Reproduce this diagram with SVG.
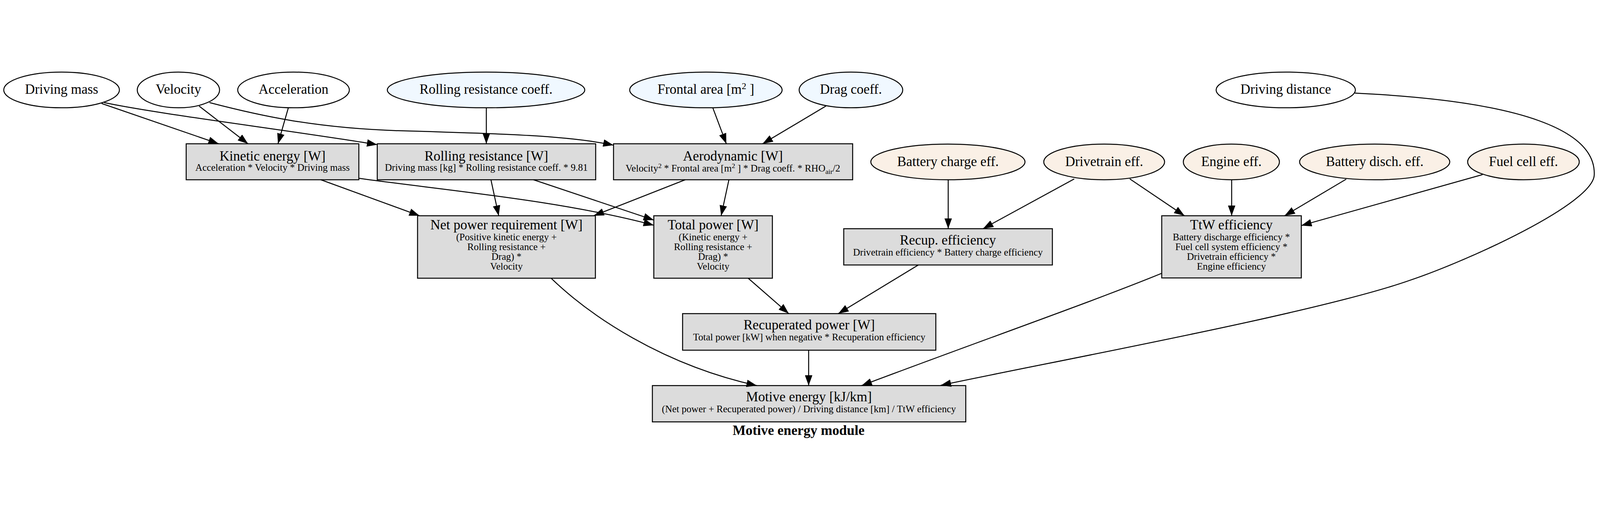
<svg xmlns="http://www.w3.org/2000/svg" width="5560" height="1323" viewBox="0 0 5560 1323">
<defs>
<style>
svg:root{max-width:100vw;max-height:100vh}
.n ellipse{stroke:#000;stroke-width:3.4}
.w ellipse{fill:#ffffff}
.b ellipse{fill:#f0f8ff}
.l ellipse{fill:#faf0e6}
.box rect{fill:#dcdcdc;stroke:#000;stroke-width:3.4}
text{font-family:"Liberation Serif","Times New Roman",serif;fill:#000;text-anchor:middle}
.t{font-size:47.5px}
.s{font-size:34px}
.title{font-size:48px;font-weight:bold}
#edges path{fill:none;stroke:#000;stroke-width:3.4;marker-end:url(#ah)}
</style>
<marker id="ah" markerUnits="userSpaceOnUse" markerWidth="36" markerHeight="26" viewBox="0 0 36 26" refX="36" refY="13" orient="auto">
<path d="M0,0 L36,13 L0,26 z" fill="#000"/>
</marker>
</defs>
<rect x="0" y="0" width="5560" height="1323" fill="#ffffff"/>

<g id="driving_mass" class="n w"><ellipse cx="214" cy="76" rx="201" ry="62"/><text class="t" x="214" y="90">Driving mass</text></g>
<g id="velocity" class="n w"><ellipse cx="620" cy="76" rx="143" ry="62"/><text class="t" x="620" y="90">Velocity</text></g>
<g id="acceleration" class="n w"><ellipse cx="1020" cy="76" rx="194" ry="62"/><text class="t" x="1020" y="90">Acceleration</text></g>
<g id="rolling_coeff" class="n b"><ellipse cx="1689" cy="76" rx="343" ry="62"/><text class="t" x="1689" y="90">Rolling resistance coeff.</text></g>
<g id="frontal_area" class="n b"><ellipse cx="2453" cy="76" rx="265" ry="62"/><text class="t" x="2453" y="90">Frontal area [m<tspan dy="-17" font-size="32">2</tspan><tspan dy="17"> ]</tspan></text></g>
<g id="drag_coeff" class="n b"><ellipse cx="2957" cy="76" rx="180" ry="62"/><text class="t" x="2957" y="90">Drag coeff.</text></g>
<g id="driving_distance" class="n w"><ellipse cx="4468" cy="76" rx="242" ry="62"/><text class="t" x="4468" y="90">Driving distance</text></g>

<g id="battery_charge_eff" class="n l"><ellipse cx="3294" cy="326" rx="268" ry="62"/><text class="t" x="3294" y="340">Battery charge eff.</text></g>
<g id="drivetrain_eff" class="n l"><ellipse cx="3837" cy="326" rx="210" ry="62"/><text class="t" x="3837" y="340">Drivetrain eff.</text></g>
<g id="engine_eff" class="n l"><ellipse cx="4279" cy="326" rx="167" ry="62"/><text class="t" x="4279" y="340">Engine eff.</text></g>
<g id="battery_disch_eff" class="n l"><ellipse cx="4777" cy="326" rx="261" ry="62"/><text class="t" x="4777" y="340">Battery disch. eff.</text></g>
<g id="fuel_cell_eff" class="n l"><ellipse cx="5294" cy="326" rx="194" ry="62"/><text class="t" x="5294" y="340">Fuel cell eff.</text></g>

<g id="kinetic_energy" class="box"><rect x="647" y="263" width="600" height="125"/><text class="t" x="947" y="321">Kinetic energy [W]</text><text class="s" x="947" y="357">Acceleration * Velocity * Driving mass</text></g>
<g id="rolling_resistance" class="box"><rect x="1311" y="263" width="759" height="125"/><text class="t" x="1690" y="321">Rolling resistance [W]</text><text class="s" x="1690" y="357">Driving mass [kg] * Rolling resistance coeff. * 9.81</text></g>
<g id="aerodynamic" class="box"><rect x="2132" y="263" width="831" height="125"/><text class="t" x="2547" y="322">Aerodynamic [W]</text><text class="s" x="2547" y="359">Velocity<tspan dy="-12" font-size="24">2</tspan><tspan dy="12"> * Frontal area [m</tspan><tspan dy="-12" font-size="24">2</tspan><tspan dy="12"> ] * Drag coeff. * RHO</tspan><tspan dy="9" font-size="24">air</tspan><tspan dy="-9">/2</tspan></text></g>

<g id="net_power" class="box"><rect x="1451" y="513" width="618" height="217"/><text class="t" x="1760" y="560">Net power requirement [W]</text><text class="s" x="1760" y="598">(Positive kinetic energy +</text><text class="s" x="1760" y="632">Rolling resistance +</text><text class="s" x="1760" y="666">Drag) *</text><text class="s" x="1760" y="700">Velocity</text></g>
<g id="total_power" class="box"><rect x="2272" y="513" width="412" height="217"/><text class="t" x="2478" y="560">Total power [W]</text><text class="s" x="2478" y="598">(Kinetic energy +</text><text class="s" x="2478" y="632">Rolling resistance +</text><text class="s" x="2478" y="666">Drag) *</text><text class="s" x="2478" y="700">Velocity</text></g>
<g id="recup_efficiency" class="box"><rect x="2932" y="558" width="725" height="126"/><text class="t" x="3294" y="613">Recup. efficiency</text><text class="s" x="3294" y="651">Drivetrain efficiency * Battery charge efficiency</text></g>
<g id="ttw_efficiency" class="box"><rect x="4037" y="513" width="485" height="216"/><text class="t" x="4279" y="560">TtW efficiency</text><text class="s" x="4279" y="598">Battery discharge efficiency *</text><text class="s" x="4279" y="632">Fuel cell system efficiency *</text><text class="s" x="4279" y="666">Drivetrain efficiency *</text><text class="s" x="4279" y="700">Engine efficiency</text></g>
<g id="recuperated_power" class="box"><rect x="2372" y="853" width="880" height="127"/><text class="t" x="2812" y="908">Recuperated power [W]</text><text class="s" x="2812" y="946">Total power [kW] when negative * Recuperation efficiency</text></g>
<g id="motive_energy" class="box"><rect x="2267" y="1103" width="1089" height="126"/><text class="t" x="2811" y="1158">Motive energy [kJ/km]</text><text class="s" x="2811" y="1195">(Net power + Recuperated power) / Driving distance [km] / TtW efficiency</text></g>

<g id="edges">
<path d="M353,123 L760,263"/>
<path d="M362,120 C550,160 1000,215 1311,266"/>
<path d="M692,132 L862,263"/>
<path d="M728,120 C900,165 1100,210 1400,218 C1750,228 1980,235 2132,268"/>
<path d="M1002,138 L966,263"/>
<path d="M1690,138 L1690,263"/>
<path d="M2477,138 L2524,263"/>
<path d="M2870,132 L2650,263"/>
<path d="M1115,388 L1458,513"/>
<path d="M1247,383 C1550,425 1950,460 2272,546"/>
<path d="M1706,388 L1733,513"/>
<path d="M1854,388 L2272,528"/>
<path d="M2381,388 L2063,513"/>
<path d="M2533,388 L2506,513"/>
<path d="M3295,388 L3295,558"/>
<path d="M3733,385 L3416,558"/>
<path d="M3926,385 L4116,513"/>
<path d="M4280,388 L4280,513"/>
<path d="M4678,386 L4464,513"/>
<path d="M5152,370 L4522,547"/>
<path d="M2600,730 L2741,853"/>
<path d="M3191,684 L2913,853"/>
<path d="M1915,730 C2050,860 2300,1030 2630,1103"/>
<path d="M2810,980 L2810,1103"/>
<path d="M4037,713 C3800,810 3400,950 2994,1103"/>
<path d="M4708,87 C5300,115 5545,220 5540,370 C5540,470 5100,670 4900,737 C4580,850 3669,1017 3269,1102"/>
</g>

<text class="title" x="2775" y="1275">Motive energy module</text>
</svg>
